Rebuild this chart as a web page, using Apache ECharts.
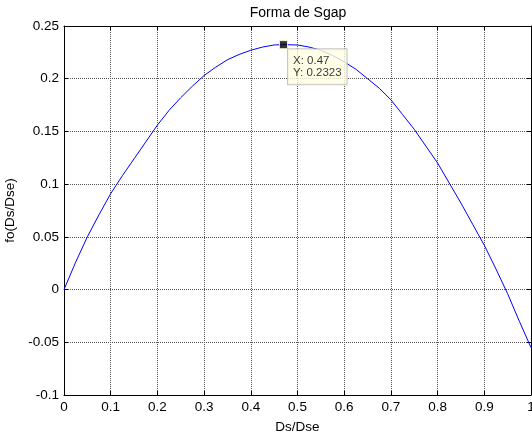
<!DOCTYPE html>
<html>
<head>
<meta charset="utf-8">
<script src="https://cdn.jsdelivr.net/npm/echarts@6/dist/echarts.min.js"></script>
<style>html,body{margin:0;padding:0;background:#fff}#c{width:532px;height:433px}</style>
</head>
<body>
<div id="c"></div>
<script>
const xValues = [0, 0.025, 0.05, 0.075, 0.1, 0.125, 0.15, 0.175, 0.2, 0.225, 0.25, 0.275, 0.3, 0.325, 0.35, 0.375, 0.4, 0.425, 0.45, 0.47, 0.5, 0.525, 0.55, 0.575, 0.6, 0.625, 0.65, 0.675, 0.7, 0.725, 0.75, 0.775, 0.8, 0.825, 0.85, 0.875, 0.9, 0.925, 0.95, 0.975, 1.0];
const yValues = [0, 0.026, 0.050, 0.071, 0.091, 0.108, 0.124, 0.140, 0.156, 0.170, 0.182, 0.193, 0.203, 0.211, 0.218, 0.223, 0.227, 0.230, 0.232, 0.2323, 0.232, 0.230, 0.227, 0.222, 0.216, 0.209, 0.200, 0.191, 0.180, 0.166, 0.152, 0.136, 0.120, 0.101, 0.082, 0.062, 0.042, 0.0195, -0.004, -0.030, -0.055];
const tipPoint = [0.47, 0.2323];
const xTicks = [0, 0.1, 0.2, 0.3, 0.4, 0.5, 0.6, 0.7, 0.8, 0.9, 1];
const yTicks = [-0.1, -0.05, 0, 0.05, 0.1, 0.15, 0.2, 0.25];

const font = 'Liberation Sans, Arial, sans-serif';
const fs = 13.5;
const chart = echarts.init(document.getElementById('c'));
const gridLine = {show: true, lineStyle: {color: '#555', type: [1, 1], width: 1}};
const axisBase = {
  axisLine: {show: true, onZero: false, lineStyle: {color: '#000', width: 1}},
  axisTick: {show: true, inside: true, length: 4, lineStyle: {color: '#000'}},
};
chart.setOption({
  animation: false,
  backgroundColor: '#fff',
  title: {text: 'Forma de Sgap', left: 298, textAlign: 'center', top: 6, padding: 0,
    textStyle: {fontFamily: font, fontSize: 14, fontWeight: 'normal', color: '#000'}},
  grid: {left: 64, top: 26, right: 1, bottom: 38, containLabel: false, outerBoundsMode: 'none'},
  xAxis: [
    Object.assign({type: 'value', min: 0, max: 1, interval: 0.1, position: 'bottom',
      name: 'Ds/Dse', nameLocation: 'middle', nameGap: 25,
      nameTextStyle: {fontFamily: font, fontSize: fs, color: '#000'},
      axisLabel: {fontFamily: font, fontSize: fs, color: '#000', margin: 5,
        formatter: v => { const t = xTicks.find(k => Math.abs(k - v) < 1e-9); return t === undefined ? '' : String(t); }},
      splitLine: gridLine}, axisBase),
    Object.assign({type: 'value', min: 0, max: 1, interval: 0.1, position: 'top',
      axisLabel: {show: false}, splitLine: {show: false}}, axisBase)
  ],
  yAxis: [
    Object.assign({type: 'value', min: -0.1, max: 0.25, interval: 0.05, position: 'left',
      name: 'fo(Ds/Dse)', nameLocation: 'middle', nameGap: 38,
      nameTextStyle: {fontFamily: font, fontSize: fs, color: '#000'},
      axisLabel: {fontFamily: font, fontSize: fs, color: '#000', margin: 5,
        formatter: v => { const t = yTicks.find(k => Math.abs(k - v) < 1e-9); return t === undefined ? '' : String(t); }},
      splitLine: gridLine}, axisBase),
    Object.assign({type: 'value', min: -0.1, max: 0.25, interval: 0.05, position: 'right',
      axisLabel: {show: false}, splitLine: {show: false}}, axisBase)
  ],
  series: [
    {type: 'line', data: xValues.map((x, i) => [x, yValues[i]]), showSymbol: false, symbol: 'none',
      lineStyle: {color: '#0000ff', width: 1}, z: 3},
    {type: 'scatter', data: [tipPoint], symbol: 'rect', symbolSize: 8,
      itemStyle: {color: '#000', borderColor: '#ffffe1', borderWidth: 1}, z: 5,
      label: {show: true, position: [9, 9], align: 'left', verticalAlign: 'top',
        formatter: 'X: 0.47\nY: 0.2323',
        fontFamily: font, fontSize: 11.5, lineHeight: 12.5, color: '#000',
        backgroundColor: '#ffffe1', borderColor: '#b8b8b8', borderWidth: 1,
        padding: [5, 5, 5, 5]}}
  ]
});
</script>
</body>
</html>
